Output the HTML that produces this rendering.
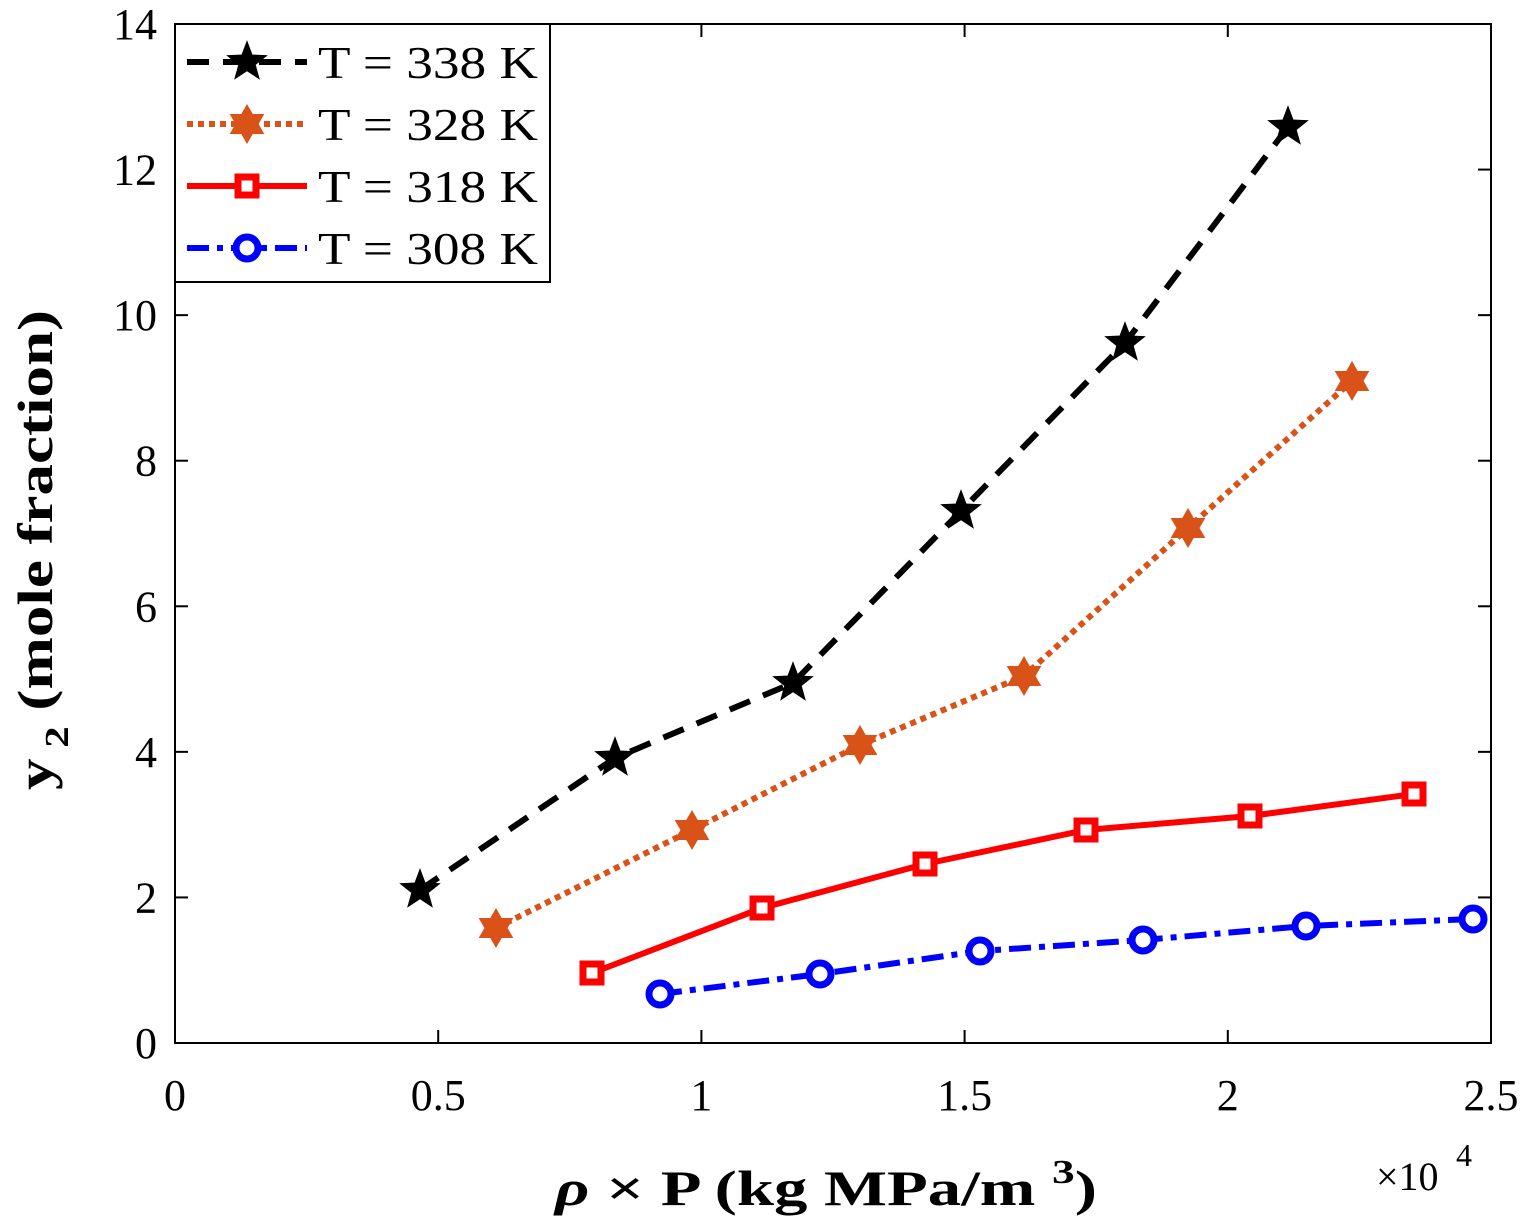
<!DOCTYPE html><html><head><style>body{margin:0;background:#fff}svg{display:block}text{font-family:"Liberation Serif",serif;fill:#000}</style></head><body>
<svg id="s" width="1523" height="1220" xmlns="http://www.w3.org/2000/svg"></svg>
<script>
const s=document.getElementById('s');let h='';
const L=175,R=1491,T=24,B=1043;
h+=`<rect x="${L}" y="${T}" width="${R-L}" height="${B-T}" fill="#fff" stroke="#000" stroke-width="2"/>`;
for(let i=0;i<=5;i++){const x=L+i*(R-L)/5;h+=`<line x1="${x}" y1="${B}" x2="${x}" y2="${B-13}" stroke="#000" stroke-width="2"/><line x1="${x}" y1="${T}" x2="${x}" y2="${T+13}" stroke="#000" stroke-width="2"/>`;
h+=`<text x="${x}" y="${B+67}" font-size="44" text-anchor="middle">${['0','0.5','1','1.5','2','2.5'][i]}</text>`;}
for(let i=0;i<=7;i++){const y=B-i*(B-T)/7;h+=`<line x1="${L}" y1="${y}" x2="${L+13}" y2="${y}" stroke="#000" stroke-width="2"/><line x1="${R}" y1="${y}" x2="${R-13}" y2="${y}" stroke="#000" stroke-width="2"/>`;
h+=`<text x="${L-18}" y="${y+15}" font-size="44" text-anchor="end">${i*2}</text>`;}
h+=`<text x="1376" y="1190" font-size="40">×10</text><text x="1456" y="1166" font-size="32">4</text>`;
h+=`<text x="555" y="1205" font-size="50" font-weight="bold" textLength="542" lengthAdjust="spacingAndGlyphs"><tspan font-style="italic">ρ</tspan> × P (kg MPa/m  <tspan dy="-22" font-size="34">3</tspan><tspan dy="22">)</tspan></text>`;
h+=`<text transform="translate(52,790) rotate(-90)" font-size="50" font-weight="bold" textLength="480" lengthAdjust="spacingAndGlyphs">y<tspan dy="16" font-size="34"> 2</tspan><tspan dy="-16">  (mole fraction)</tspan></text>`;
function star5(x,y,r,c){let p=[];for(let i=0;i<10;i++){const a=-Math.PI/2+i*Math.PI/5,rr=i%2?r*0.42:r;p.push((x+rr*Math.cos(a)).toFixed(1)+','+(y+rr*Math.sin(a)).toFixed(1));}return `<polygon points="${p.join(' ')}" fill="${c}" stroke="${c}" stroke-width="2"/>`;}
function star6(x,y,r,c){let p=[];for(let i=0;i<12;i++){const a=-Math.PI/2+i*Math.PI/6,rr=i%2?r*0.58:r;p.push((x+rr*Math.cos(a)).toFixed(1)+','+(y+rr*Math.sin(a)).toFixed(1));}return `<polygon points="${p.join(' ')}" fill="${c}" stroke="${c}" stroke-width="2"/>`;}
function sq(x,y,c){return `<rect x="${x-9}" y="${y-9}" width="18" height="18" fill="#fff" stroke="${c}" stroke-width="7"/>`;}
function ci(x,y,c){return `<circle cx="${x}" cy="${y}" r="11" fill="#fff" stroke="${c}" stroke-width="7"/>`;}
const S=[
{c:'#000',d:'22 14',m:(x,y)=>star5(x,y,19,'#000'),p:[[420,890],[615,758],[793,683],[961,511],[1125,343],[1288,127]]},
{c:'#D95319',d:'6 5',m:(x,y)=>star6(x,y,18,'#D95319'),p:[[496,928],[692,830],[860,745],[1024,676],[1188,528],[1352,381]]},
{c:'#f00',d:'',m:(x,y)=>sq(x,y,'#f00'),p:[[592,973],[762,908],[925,864],[1086,830],[1250,816],[1414,794]]},
{c:'#00f',d:'22 8 6 8',m:(x,y)=>ci(x,y,'#00f'),p:[[660,994],[820,974],[980,951],[1143,940],[1306,926],[1473,919]]}];
S.forEach(o=>{h+=`<polyline points="${o.p.map(q=>q.join(',')).join(' ')}" fill="none" stroke="${o.c}" stroke-width="6" stroke-dasharray="${o.d}"/>`;o.p.forEach(q=>h+=o.m(q[0],q[1]));});
h+=`<rect x="${L}" y="${T}" width="375" height="258" fill="#fff" stroke="#000" stroke-width="2"/>`;
const lab=['338','328','318','308'];
S.forEach((o,i)=>{const y=62+i*62;h+=`<line x1="187" y1="${y}" x2="307" y2="${y}" stroke="${o.c}" stroke-width="6" stroke-dasharray="${o.d}"/>`+o.m(247,y)+`<text x="318" y="${y+16}" font-size="46" textLength="220" lengthAdjust="spacingAndGlyphs">T = ${lab[i]} K</text>`;});
h+=`<rect x="${L}" y="${T}" width="${R-L}" height="${B-T}" fill="none" stroke="#000" stroke-width="2"/>`;
s.innerHTML=h;
</script></body></html>
